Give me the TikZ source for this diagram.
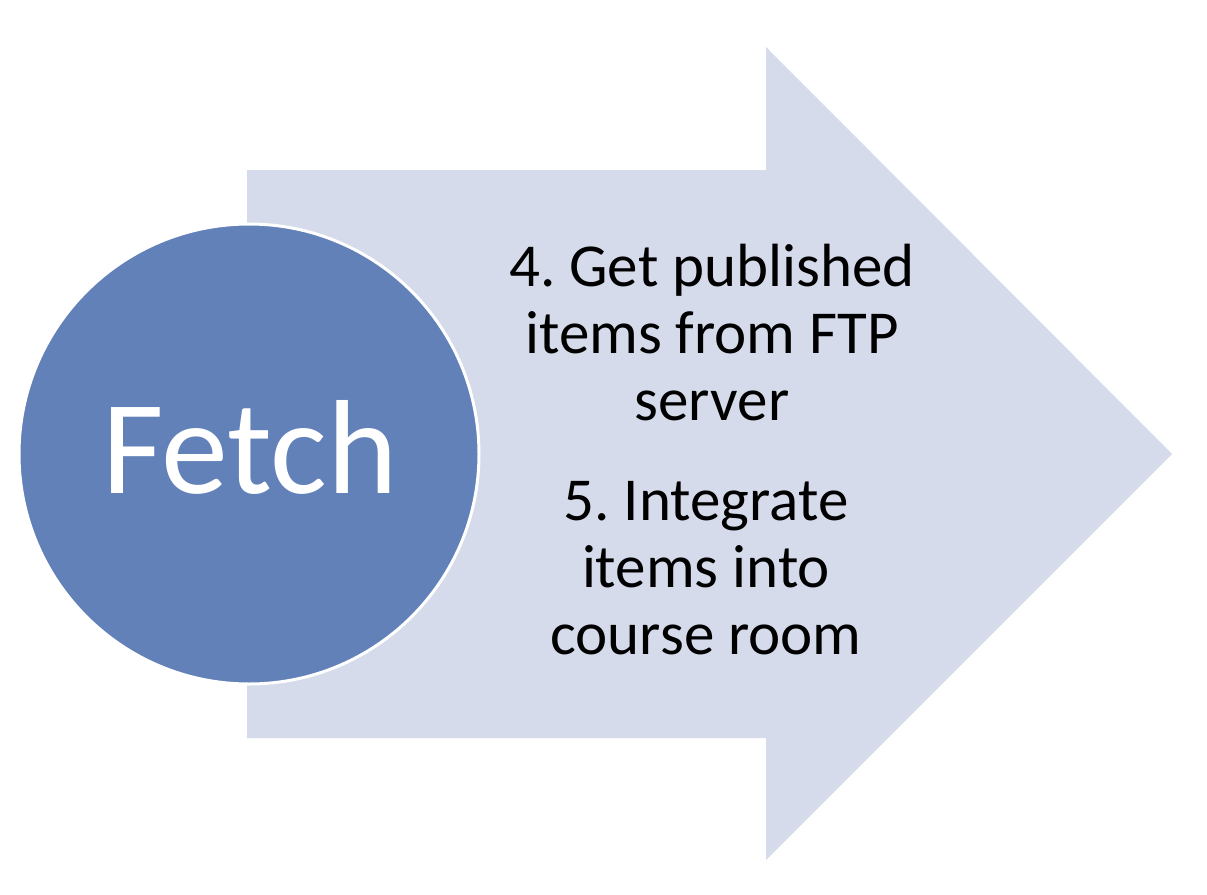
\documentclass[tikz,border=0pt]{standalone}
\usepackage{fontspec}
\setmainfont{Carlito}
\definecolor{arrowfill}{HTML}{D5DBEA}
\definecolor{circfill}{HTML}{6281B9}
\begin{document}
\frenchspacing
\begin{tikzpicture}[x=1pt,y=-1pt,
  bigarrow/.style={fill=arrowfill,draw=none},
  stagecircle/.style={circle,fill=circfill,draw=white,line width=3pt,minimum size=460pt,inner sep=0pt},
  steptext/.style={align=center,inner sep=0pt,font=\fontsize{61}{67}\selectfont,text=black}]
\useasboundingbox (0,0) rectangle (1207,894);
\fill[white] (0,0) rectangle (1207,894);
\fill[bigarrow] (247,170) -- (766,170) -- (766,47) -- (1172,454) -- (766,860) -- (766,738) -- (247,738) -- cycle;
\node[stagecircle] (c) at (249,454) {};
\node[anchor=base,inner sep=0pt,text=white,font=\fontsize{134}{160}\selectfont] (fetch) at (250,493) {Fetch};
\node[steptext] (s4) at (712,332.3) {4. Get published\\items from FTP\\server};
\node[steptext] (s5) at (706,568.6) {5. Integrate\\items into\\course room};
\end{tikzpicture}
\end{document}
